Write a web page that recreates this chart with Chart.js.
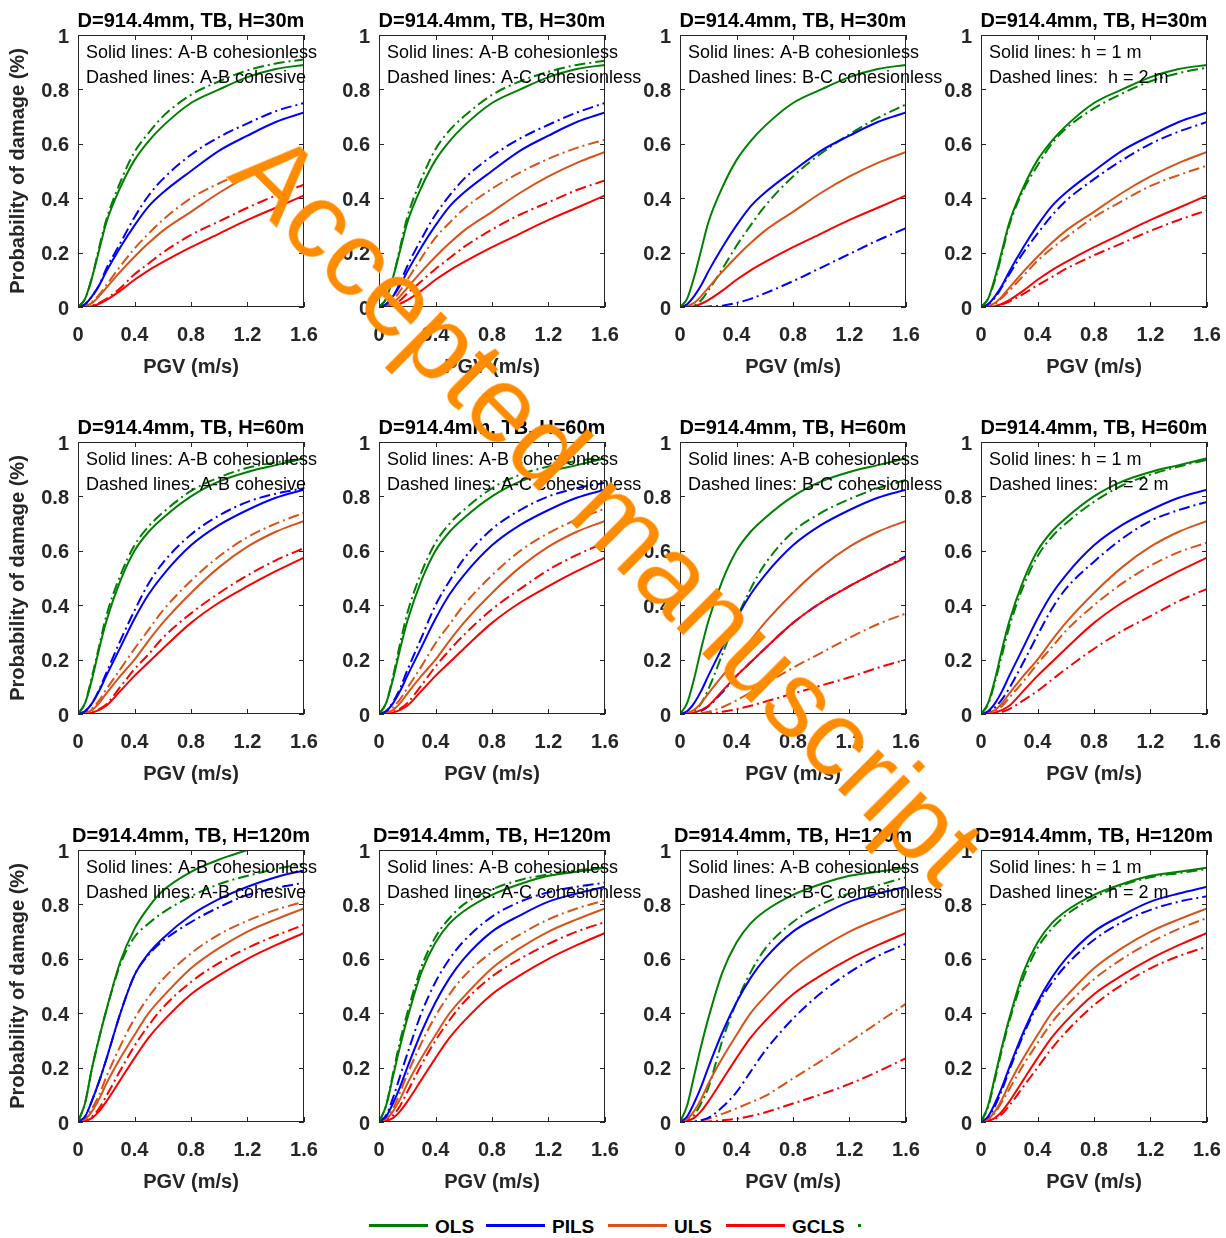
<!DOCTYPE html>
<html>
<head>
<meta charset="utf-8">
<title>Probability of damage vs PGV</title>
<script src="https://cdn.jsdelivr.net/npm/chart.js@4.4.0/dist/chart.umd.min.js"></script>
<style>
  html, body { margin: 0; padding: 0; background: #fff; overflow: hidden; }
  #page { position: relative; width: 1226px; height: 1238px; overflow: hidden; }
  #page canvas { position: absolute; }
  .lg-line { position: absolute; height: 2.5px; }
  .lg-text { position: absolute; font: bold 19px "Liberation Sans", Arial, sans-serif; color: #000; line-height: 1; }
  #watermark {
    position: absolute; left: 290px; top: 113px; z-index: 10;
    font: 108px "Liberation Sans", Arial, sans-serif; line-height: 1;
    color: #ff8c00; white-space: nowrap;
    transform: rotate(45deg); transform-origin: 0 0; pointer-events: none;
  }
</style>
</head>
<body>
<div id="page">
  <div id="watermark">Accepted manuscript</div>
</div>
<script>
'use strict';

// eje x comun (PGV en m/s) y marcas de los ejes
const pgv = [0, 0.05, 0.1, 0.15, 0.2, 0.3, 0.4, 0.5, 0.6, 0.8, 1.0, 1.2, 1.4, 1.6];
const xTicks = [0, 0.4, 0.8, 1.2, 1.6];
const yTicks = [0, 0.2, 0.4, 0.6, 0.8, 1];

const states = ['OLS', 'PILS', 'ULS', 'GCLS'];
const heights = ['H=30m', 'H=60m', 'H=120m'];
const solidNotes = ['Solid lines: A-B cohesionless', 'Solid lines: A-B cohesionless', 'Solid lines: A-B cohesionless', 'Solid lines: h = 1 m'];
const dashNotes = ['Dashed lines: A-B cohesive', 'Dashed lines: A-C cohesionless', 'Dashed lines: B-C cohesionless', 'Dashed lines:  h = 2 m'];

// solid lines, A-B cohesionless
const ols30  = [0, 0.03, 0.11, 0.21, 0.31, 0.44, 0.54, 0.61, 0.665, 0.75, 0.80, 0.845, 0.875, 0.89];
const pils30 = [0, 0.01, 0.04, 0.08, 0.13, 0.22, 0.30, 0.37, 0.42, 0.50, 0.575, 0.63, 0.68, 0.715];
const uls30  = [0, 0.003, 0.015, 0.04, 0.07, 0.13, 0.185, 0.235, 0.28, 0.35, 0.42, 0.48, 0.53, 0.57];
const gcls30 = [0, 0, 0.003, 0.012, 0.025, 0.06, 0.10, 0.135, 0.165, 0.22, 0.27, 0.32, 0.365, 0.41];

const ols60  = [0, 0.04, 0.13, 0.24, 0.34, 0.49, 0.60, 0.67, 0.72, 0.80, 0.855, 0.89, 0.915, 0.94];
const pils60 = [0, 0.01, 0.04, 0.085, 0.14, 0.245, 0.35, 0.44, 0.51, 0.62, 0.695, 0.75, 0.795, 0.825];
const uls60  = [0, 0.003, 0.015, 0.04, 0.075, 0.14, 0.20, 0.27, 0.335, 0.445, 0.54, 0.615, 0.67, 0.71];
const gcls60 = [0, 0, 0.005, 0.015, 0.03, 0.085, 0.14, 0.19, 0.24, 0.335, 0.41, 0.47, 0.525, 0.575];

const ols120  = [0, 0.06, 0.17, 0.28, 0.38, 0.55, 0.66, 0.73, 0.775, 0.835, 0.875, 0.905, 0.92, 0.935];
const pils120 = [0, 0.02, 0.07, 0.13, 0.20, 0.33, 0.44, 0.53, 0.60, 0.70, 0.76, 0.81, 0.84, 0.865];
const uls120  = [0, 0.01, 0.04, 0.085, 0.14, 0.235, 0.32, 0.40, 0.46, 0.565, 0.64, 0.70, 0.745, 0.785];
const gcls120 = [0, 0.003, 0.015, 0.04, 0.075, 0.155, 0.235, 0.31, 0.37, 0.47, 0.54, 0.60, 0.65, 0.695];

// the first H=120m panel has its own OLS / PILS solid curves
const ols120first  = [0, 0.07, 0.20, 0.31, 0.41, 0.59, 0.71, 0.79, 0.85, 0.92, 0.965, 1.0, null, null];
const pils120first = [0, 0.02, 0.08, 0.15, 0.23, 0.40, 0.54, 0.62, 0.675, 0.76, 0.82, 0.865, 0.90, 0.925];

// dashed lines per panel: [OLS, PILS, ULS, GCLS]
const dash30AB = [
  [0, 0.03, 0.11, 0.22, 0.32, 0.46, 0.57, 0.64, 0.70, 0.78, 0.83, 0.87, 0.895, 0.91],
  [0, 0.01, 0.04, 0.08, 0.14, 0.235, 0.33, 0.41, 0.47, 0.56, 0.625, 0.675, 0.72, 0.75],
  [0, 0.004, 0.02, 0.045, 0.08, 0.15, 0.215, 0.27, 0.32, 0.40, 0.455, 0.50, 0.54, 0.575],
  [0, 0, 0.005, 0.015, 0.03, 0.07, 0.12, 0.16, 0.20, 0.265, 0.315, 0.365, 0.41, 0.45]
];
const dash30AC = [
  [0, 0.03, 0.11, 0.22, 0.33, 0.47, 0.58, 0.65, 0.70, 0.78, 0.83, 0.865, 0.89, 0.905],
  [0, 0.01, 0.04, 0.09, 0.15, 0.25, 0.34, 0.41, 0.47, 0.555, 0.62, 0.67, 0.715, 0.75],
  [0, 0.005, 0.025, 0.06, 0.10, 0.18, 0.255, 0.31, 0.36, 0.435, 0.495, 0.545, 0.585, 0.615],
  [0, 0.002, 0.01, 0.025, 0.05, 0.095, 0.14, 0.18, 0.22, 0.285, 0.34, 0.385, 0.43, 0.465]
];
// ULS y GCLS quedan sobre el eje (no se ven)
const dash30BC = [
  [0, 0, 0.005, 0.025, 0.06, 0.14, 0.225, 0.30, 0.37, 0.48, 0.565, 0.635, 0.695, 0.745],
  [0, 0, 0, 0, 0.002, 0.005, 0.015, 0.03, 0.05, 0.095, 0.145, 0.195, 0.245, 0.29],
  null,
  null
];
const dash30h2 = [
  [0, 0.03, 0.10, 0.20, 0.30, 0.43, 0.52, 0.60, 0.655, 0.73, 0.785, 0.83, 0.86, 0.88],
  [0, 0.01, 0.035, 0.075, 0.12, 0.20, 0.27, 0.335, 0.39, 0.47, 0.54, 0.60, 0.645, 0.68],
  [0, 0.002, 0.012, 0.035, 0.06, 0.115, 0.17, 0.215, 0.255, 0.33, 0.39, 0.445, 0.485, 0.52],
  [0, 0, 0.003, 0.01, 0.02, 0.048, 0.08, 0.11, 0.14, 0.19, 0.235, 0.28, 0.32, 0.355]
];

const dash60AB = [
  [0, 0.04, 0.14, 0.25, 0.36, 0.51, 0.62, 0.69, 0.74, 0.82, 0.87, 0.905, 0.925, 0.94],
  [0, 0.01, 0.04, 0.09, 0.15, 0.27, 0.38, 0.48, 0.555, 0.66, 0.73, 0.78, 0.81, 0.83],
  [0, 0.004, 0.02, 0.05, 0.09, 0.165, 0.24, 0.31, 0.38, 0.49, 0.58, 0.65, 0.70, 0.74],
  [0, 0, 0.006, 0.018, 0.035, 0.10, 0.165, 0.22, 0.28, 0.37, 0.445, 0.51, 0.565, 0.61]
];
const dash60AC = [
  [0, 0.04, 0.14, 0.26, 0.37, 0.52, 0.63, 0.70, 0.75, 0.83, 0.88, 0.91, 0.93, 0.945],
  [0, 0.01, 0.045, 0.095, 0.16, 0.28, 0.40, 0.49, 0.57, 0.68, 0.75, 0.80, 0.83, 0.85],
  [0, 0.005, 0.025, 0.055, 0.095, 0.175, 0.26, 0.33, 0.40, 0.51, 0.60, 0.665, 0.715, 0.755],
  [0, 0.002, 0.008, 0.02, 0.04, 0.105, 0.175, 0.235, 0.29, 0.385, 0.46, 0.53, 0.585, 0.63]
];
const dash60BC = [
  [0, 0, 0.01, 0.04, 0.09, 0.22, 0.35, 0.46, 0.55, 0.67, 0.74, 0.79, 0.83, 0.86],
  [0, 0, 0.003, 0.012, 0.028, 0.08, 0.14, 0.19, 0.24, 0.335, 0.41, 0.47, 0.525, 0.58],
  [0, 0, 0, 0.003, 0.008, 0.025, 0.05, 0.08, 0.11, 0.17, 0.225, 0.28, 0.33, 0.37],
  [0, 0, 0, 0, 0.002, 0.008, 0.018, 0.03, 0.045, 0.075, 0.105, 0.135, 0.17, 0.20]
];
const dash60h2 = [
  [0, 0.035, 0.12, 0.22, 0.32, 0.47, 0.58, 0.65, 0.70, 0.78, 0.84, 0.88, 0.91, 0.935],
  [0, 0.005, 0.025, 0.055, 0.095, 0.19, 0.29, 0.385, 0.46, 0.56, 0.645, 0.71, 0.75, 0.78],
  [0, 0.002, 0.01, 0.03, 0.06, 0.12, 0.185, 0.245, 0.305, 0.40, 0.48, 0.545, 0.595, 0.63],
  [0, 0, 0.002, 0.008, 0.018, 0.05, 0.085, 0.125, 0.165, 0.24, 0.305, 0.36, 0.415, 0.46]
];

const dash120AB = [
  [0, 0.07, 0.20, 0.31, 0.41, 0.58, 0.68, 0.73, 0.77, 0.83, 0.875, 0.905, 0.93, 0.95],
  [0, 0.02, 0.08, 0.15, 0.23, 0.40, 0.54, 0.615, 0.665, 0.735, 0.79, 0.835, 0.86, 0.88],
  [0, 0.012, 0.05, 0.10, 0.165, 0.28, 0.38, 0.46, 0.525, 0.62, 0.69, 0.74, 0.78, 0.81],
  [0, 0.004, 0.02, 0.05, 0.095, 0.19, 0.28, 0.355, 0.42, 0.515, 0.585, 0.64, 0.685, 0.725]
];
const dash120AC = [
  [0, 0.06, 0.18, 0.30, 0.40, 0.57, 0.68, 0.75, 0.80, 0.855, 0.89, 0.91, 0.925, 0.935],
  [0, 0.025, 0.09, 0.17, 0.25, 0.40, 0.515, 0.60, 0.665, 0.755, 0.81, 0.845, 0.865, 0.88],
  [0, 0.012, 0.05, 0.11, 0.175, 0.29, 0.39, 0.47, 0.535, 0.625, 0.69, 0.745, 0.785, 0.815],
  [0, 0.005, 0.025, 0.06, 0.11, 0.21, 0.30, 0.375, 0.44, 0.535, 0.60, 0.655, 0.70, 0.735]
];
const dash120BC = [
  [0, 0.005, 0.025, 0.07, 0.125, 0.30, 0.44, 0.55, 0.635, 0.735, 0.80, 0.84, 0.87, 0.90],
  [0, 0, 0.002, 0.007, 0.015, 0.055, 0.11, 0.185, 0.26, 0.38, 0.475, 0.55, 0.61, 0.655],
  [0, 0, 0, 0.005, 0.012, 0.03, 0.05, 0.072, 0.095, 0.16, 0.225, 0.295, 0.365, 0.435],
  [0, 0, 0, 0, 0.002, 0.006, 0.012, 0.022, 0.035, 0.068, 0.102, 0.14, 0.185, 0.235]
];
const dash120h2 = [
  [0, 0.055, 0.16, 0.27, 0.37, 0.53, 0.64, 0.71, 0.76, 0.825, 0.87, 0.90, 0.915, 0.93],
  [0, 0.015, 0.06, 0.12, 0.19, 0.32, 0.43, 0.51, 0.575, 0.67, 0.735, 0.78, 0.81, 0.83],
  [0, 0.008, 0.035, 0.075, 0.12, 0.21, 0.29, 0.365, 0.425, 0.525, 0.60, 0.66, 0.71, 0.75],
  [0, 0.002, 0.012, 0.03, 0.06, 0.13, 0.20, 0.27, 0.33, 0.43, 0.505, 0.565, 0.61, 0.645]
];

const solidRows = [
  [ols30, pils30, uls30, gcls30],
  [ols60, pils60, uls60, gcls60],
  [ols120, pils120, uls120, gcls120]
];
const dashedPanels = [
  [dash30AB, dash30AC, dash30BC, dash30h2],
  [dash60AB, dash60AC, dash60BC, dash60h2],
  [dash120AB, dash120AC, dash120BC, dash120h2]
];

// estilo (colores de MATLAB)
const lineColors = ['#008000', '#0000ff', '#d95319', '#ff0000'];
const FONT = '"Liberation Sans", Arial, sans-serif';
const AXIS_GRAY = '#262626';

// posicion de cada area de dibujo
const plotLeft = [78, 379, 680, 981];
const plotTop = [35, 442, 850];
const PW = 226, PH = 272;
const PAD_L = 78, PAD_T = 40, PAD_R = 40, PAD_B = 75;

const page = document.getElementById('page');

// caja, marcas interiores y textos de cada panel
const panelDecor = {
  id: 'panelDecor',
  afterDatasetsDraw(chart, args, opts) {
    const ctx = chart.ctx;
    const a = chart.chartArea;
    const xs = chart.scales.x, ys = chart.scales.y;
    ctx.save();
    ctx.strokeStyle = AXIS_GRAY;
    ctx.lineWidth = 1;
    ctx.beginPath();
    for (let v of xTicks) {
      let px = Math.round(xs.getPixelForValue(v)) + 0.5;
      ctx.moveTo(px, a.bottom); ctx.lineTo(px, a.bottom - 5);
      ctx.moveTo(px, a.top); ctx.lineTo(px, a.top + 5);
    }
    for (let v of yTicks) {
      let py = Math.round(ys.getPixelForValue(v)) + 0.5;
      ctx.moveTo(a.left, py); ctx.lineTo(a.left + 5, py);
      ctx.moveTo(a.right, py); ctx.lineTo(a.right - 5, py);
    }
    ctx.stroke();
    ctx.strokeRect(Math.round(a.left) + 0.5, Math.round(a.top) + 0.5, Math.round(a.width) - 1, Math.round(a.height) - 1);

    ctx.fillStyle = '#000';
    ctx.textBaseline = 'alphabetic';
    ctx.font = 'bold 20px ' + FONT;
    ctx.textAlign = 'center';
    ctx.fillText(opts.title, (a.left + a.right) / 2, a.top - 8);

    ctx.font = '18px ' + FONT;
    ctx.textAlign = 'left';
    ctx.fillText(opts.solidNote, a.left + 8, a.top + 23);
    ctx.fillText(opts.dashNote, a.left + 8, a.top + 48);
    ctx.restore();
  }
};

function toPoints(vals) {
  let pts = [];
  pgv.forEach((x, k) => pts.push({ x: x, y: vals[k] }));
  return pts;
}

function crearPanel(r, c) {
  const cv = document.createElement('canvas');
  cv.width = PAD_L + PW + PAD_R;
  cv.height = PAD_T + PH + PAD_B;
  cv.style.left = (plotLeft[c] - PAD_L) + 'px';
  cv.style.top = (plotTop[r] - PAD_T) + 'px';
  page.appendChild(cv);

  let solid = solidRows[r].slice();
  if (r === 2 && c === 0) {
    solid[0] = ols120first;
    solid[1] = pils120first;
  }
  const dashed = dashedPanels[r][c];

  let datasets = [];
  for (let i = 0; i < 4; i++) {
    datasets.push({
      label: states[i],
      data: toPoints(solid[i]),
      borderColor: lineColors[i],
      borderWidth: 2,
      pointRadius: 0,
      cubicInterpolationMode: 'monotone',
      fill: false
    });
  }
  for (let i = 0; i < 4; i++) {
    if (!dashed[i]) continue;
    datasets.push({
      label: states[i] + ' dashed',
      data: toPoints(dashed[i]),
      borderColor: lineColors[i],
      borderWidth: 2,
      borderDash: [11, 4, 2, 4],
      pointRadius: 0,
      cubicInterpolationMode: 'monotone',
      fill: false
    });
  }

  const tickFont = { family: FONT, size: 20, weight: 'bold' };

  new Chart(cv, {
    type: 'line',
    data: { datasets: datasets },
    options: {
      responsive: false,
      animation: false,
      devicePixelRatio: 1,
      layout: { padding: { left: 0, top: PAD_T, right: PAD_R, bottom: 0 } },
      plugins: {
        legend: { display: false },
        tooltip: { enabled: false },
        panelDecor: {
          title: 'D=914.4mm, TB, ' + heights[r],
          solidNote: solidNotes[c],
          dashNote: dashNotes[c]
        }
      },
      scales: {
        x: {
          type: 'linear',
          min: 0,
          max: 1.6,
          grid: { display: false, drawTicks: false },
          border: { display: false },
          afterBuildTicks: s => { s.ticks = xTicks.map(v => ({ value: v })); },
          afterFit: s => { s.height = PAD_B; },
          ticks: {
            padding: 16,
            color: AXIS_GRAY,
            font: tickFont,
            maxRotation: 0,
            autoSkip: false,
            callback: v => String(v)
          },
          title: {
            display: true,
            text: 'PGV (m/s)',
            color: AXIS_GRAY,
            font: tickFont,
            padding: { top: 0, bottom: 3 }
          }
        },
        y: {
          min: 0,
          max: 1,
          grid: { display: false, drawTicks: false },
          border: { display: false },
          afterBuildTicks: s => { s.ticks = yTicks.map(v => ({ value: v })); },
          afterFit: s => { s.width = PAD_L; },
          ticks: {
            padding: 9,
            labelOffset: 2,
            color: AXIS_GRAY,
            font: tickFont,
            autoSkip: false,
            callback: v => String(v)
          },
          title: {
            display: c === 0,
            text: 'Probability of damage (%)',
            color: AXIS_GRAY,
            font: tickFont,
            padding: { top: 6, bottom: 0 }
          }
        }
      }
    },
    plugins: [panelDecor]
  });
}

for (let r = 0; r < 3; r++) {
  for (let c = 0; c < 4; c++) {
    crearPanel(r, c);
  }
}

// leyenda inferior
const legendLineX = [369, 486, 608, 726];
states.forEach((s, i) => {
  let ln = document.createElement('div');
  ln.className = 'lg-line';
  ln.style.left = legendLineX[i] + 'px';
  ln.style.top = '1224px';
  ln.style.width = '59px';
  ln.style.background = lineColors[i];
  page.appendChild(ln);

  let tx = document.createElement('div');
  tx.className = 'lg-text';
  tx.style.left = (legendLineX[i] + 66) + 'px';
  tx.style.top = '1217px';
  tx.textContent = s;
  page.appendChild(tx);
});
// resto de una quinta entrada cortada
let cut = document.createElement('div');
cut.className = 'lg-line';
cut.style.left = '858px';
cut.style.top = '1224px';
cut.style.width = '3px';
cut.style.background = lineColors[0];
page.appendChild(cut);
</script>
</body>
</html>
